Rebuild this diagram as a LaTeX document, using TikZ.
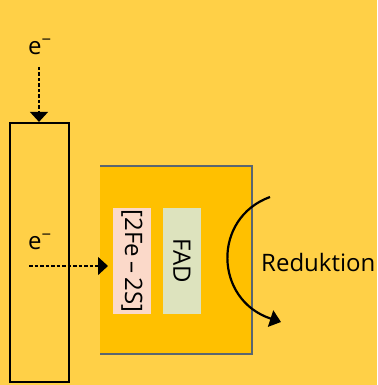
\documentclass[tikz,border=0pt]{standalone}
\usepackage{fontspec}
\setmainfont{Open Sans}
\usetikzlibrary{arrows.meta}
\definecolor{bgc}{HTML}{FFD047}
\definecolor{boxc}{HTML}{FFC000}
\definecolor{edgec}{HTML}{5A6670}
\definecolor{fesc}{HTML}{FBD9C9}
\definecolor{fadc}{HTML}{DDE3BE}
\tikzset{
  lbl/.style={inner sep=0pt, font=\fontsize{24}{28}\selectfont},
  cofactor/.style={inner sep=0pt, minimum width=38pt, minimum height=106pt},
  etip/.style={-{Triangle[length=10pt,width=18pt]}},
  flow/.style={etip, dash pattern=on 3.5pt off 2pt, line width=1.5pt},
}
\begin{document}
\begin{tikzpicture}[x=1pt,y=-1pt]
\fill[bgc] (0,0) rectangle (377,385);
\useasboundingbox (0,0) rectangle (377,385);
% enzyme box
\fill[boxc] (100,166) rectangle (252,354);
\draw[edgec, line width=2.2pt] (100,166) -- (252,166) -- (252,354) -- (100,354);
% membrane column
\node[draw, line width=2.2pt, minimum width=59pt, minimum height=259pt, inner sep=0pt] (col) at (39.5,252.5) {};
% cofactors
\node[cofactor, fill=fesc] (fes) at (132,261) {};
\node[lbl, rotate=-90] at (fes.center) {[2Fe\,–\,2S]};
\node[cofactor, fill=fadc] (fad) at (182,261) {};
\node[lbl, rotate=-90] at (fad.center) {FAD};
% electrons
\node[lbl] (e1) at (40,47) {e\textsuperscript{−}};
\coordinate (e1s) at (39,67);
\draw[flow] (e1s) -- (col.north -| e1s);
\node[lbl] (e2) at (40,242) {e\textsuperscript{−}};
\coordinate (e2s) at (29,266);
\coordinate (e2t) at (108,266);
\draw[flow] (e2s) -- (e2t);
% reduction arc
\coordinate (ra) at (270,197);
\coordinate (rb) at (281,322);
\draw[line width=2.2pt, -{Triangle[length=11pt,width=17pt]}] (ra) .. controls (212,218) and (214,300) .. (rb);
\node[lbl, anchor=west] (red) at (261,262) {Reduktion};
\end{tikzpicture}
\end{document}
